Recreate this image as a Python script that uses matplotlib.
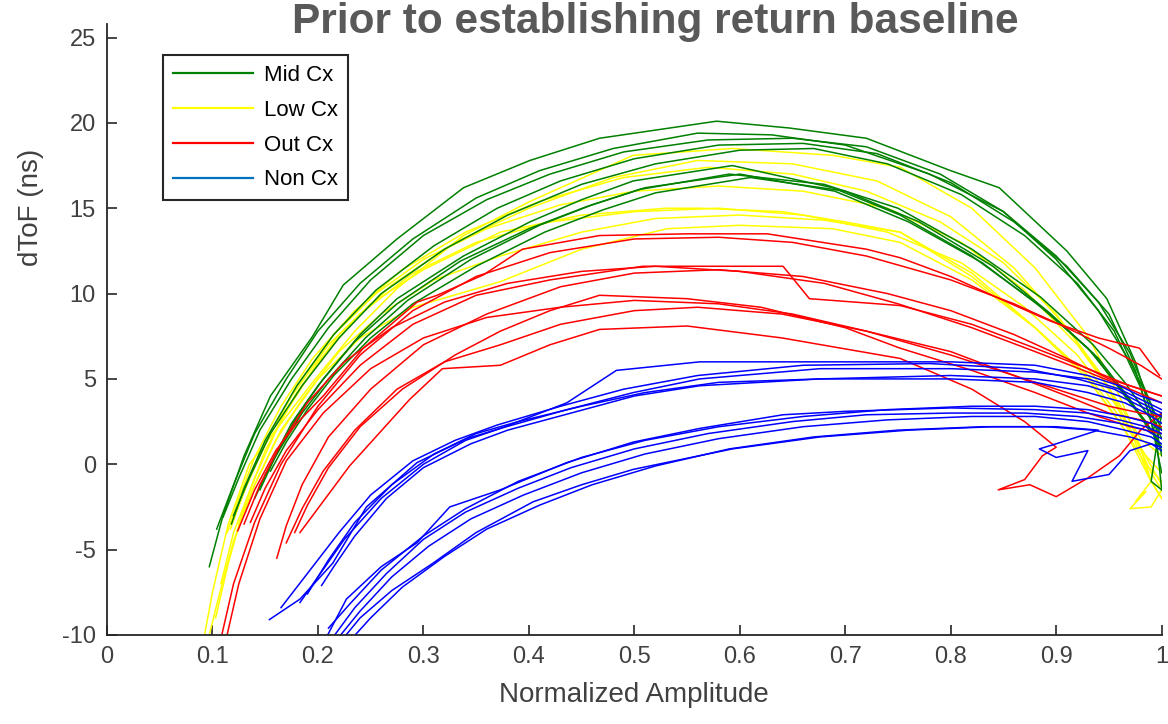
import numpy as np
import matplotlib
matplotlib.use('Agg')
import matplotlib.pyplot as plt
from matplotlib.lines import Line2D

plt.rcParams['font.family'] = ['Liberation Sans', 'DejaVu Sans']
plt.rcParams['axes.unicode_minus'] = False

# ---- data (normalized amplitude, dToF in ns) ----
mid_cx_x = [
    [0.097, 0.11, 0.13, 0.155, 0.195, 0.224, 0.275, 0.338, 0.401, 0.467, 0.578, 0.647, 0.72, 0.80, 0.846, 0.91, 0.948, 0.975, 0.99, 1.0],
    [0.104, 0.12, 0.14, 0.17, 0.20, 0.24, 0.29, 0.35, 0.41, 0.48, 0.56, 0.63, 0.70, 0.78, 0.85, 0.90, 0.94, 0.97, 0.99, 1.0],
    [0.11, 0.125, 0.145, 0.175, 0.21, 0.25, 0.30, 0.36, 0.42, 0.49, 0.57, 0.65, 0.72, 0.79, 0.85, 0.90, 0.94, 0.97, 0.99, 1.0],
    [0.118, 0.13, 0.15, 0.18, 0.215, 0.255, 0.31, 0.37, 0.43, 0.50, 0.58, 0.66, 0.73, 0.80, 0.86, 0.91, 0.95, 0.975, 0.99, 1.0],
    [0.12, 0.135, 0.155, 0.185, 0.22, 0.26, 0.32, 0.38, 0.45, 0.52, 0.60, 0.67, 0.74, 0.81, 0.87, 0.92, 0.955, 0.98, 0.995, 1.0],
    [0.145, 0.16, 0.18, 0.205, 0.24, 0.275, 0.338, 0.401, 0.45, 0.499, 0.593, 0.688, 0.752, 0.82, 0.88, 0.93, 0.96, 0.985, 1.0],
    [0.15, 0.165, 0.185, 0.21, 0.245, 0.285, 0.345, 0.41, 0.46, 0.51, 0.60, 0.69, 0.76, 0.83, 0.89, 0.935, 0.965, 0.99, 1.0],
    [0.14, 0.155, 0.175, 0.20, 0.235, 0.275, 0.335, 0.40, 0.455, 0.505, 0.59, 0.68, 0.75, 0.82, 0.885, 0.935, 0.965, 0.99, 1.0],
    [0.155, 0.17, 0.19, 0.215, 0.25, 0.29, 0.35, 0.415, 0.47, 0.52, 0.61, 0.70, 0.77, 0.84, 0.895, 0.94, 0.97, 0.99, 1.0, 0.99, 1.0],
]
mid_cx_y = [
    [-6.0, -3.0, 0.5, 4.0, 7.5, 10.5, 13.2, 16.2, 17.8, 19.1, 20.1, 19.7, 19.1, 17.2, 16.2, 12.5, 9.7, 6.0, 3.0, 1.5],
    [-3.8, -1.2, 1.8, 5.0, 7.8, 10.6, 13.2, 15.6, 17.2, 18.5, 19.4, 19.3, 18.7, 17.0, 14.8, 12.0, 9.0, 6.0, 3.5, 2.0],
    [-3.1, -0.8, 2.0, 5.0, 8.0, 10.8, 13.4, 15.5, 17.0, 18.3, 19.0, 19.1, 18.6, 17.0, 14.8, 12.2, 9.5, 6.5, 3.5, 0.5],
    [-3.5, -1.4, 1.4, 4.6, 7.6, 10.2, 12.8, 15.0, 16.6, 17.9, 18.7, 18.8, 18.2, 16.5, 14.2, 11.6, 8.8, 5.5, 2.5, -0.5],
    [-3.0, -0.8, 1.8, 4.6, 7.4, 10.0, 12.6, 14.6, 16.4, 17.6, 18.4, 18.5, 17.6, 15.8, 13.4, 10.6, 7.8, 4.5, 1.5, -1.5],
    [-1.5, 0.5, 2.8, 5.0, 7.6, 9.7, 12.2, 14.2, 15.5, 16.6, 17.5, 16.2, 14.6, 12.2, 9.5, 6.8, 4.5, 2.5, 1.0],
    [-0.6, 1.0, 3.0, 5.0, 7.4, 9.6, 12.0, 14.0, 15.2, 16.2, 17.0, 16.0, 14.2, 11.8, 9.0, 6.5, 4.0, 2.0, 0.8],
    [-2.0, 0.0, 2.4, 4.6, 7.2, 9.4, 11.9, 13.8, 15.1, 16.1, 17.0, 16.4, 15.0, 12.6, 9.8, 7.0, 4.8, 2.6, 2.0],
    [-0.4, 1.3, 3.2, 5.2, 7.4, 9.4, 11.6, 13.6, 14.9, 15.9, 16.8, 16.0, 14.2, 11.6, 8.8, 6.2, 3.8, 1.8, 3.0, -1.0, -1.5],
]

low_cx_x = [
    [0.091, 0.10, 0.115, 0.135, 0.16, 0.195, 0.235, 0.275, 0.338, 0.401, 0.499, 0.593, 0.688, 0.752, 0.82, 0.88, 0.93, 0.96, 0.98, 0.99, 1.0],
    [0.103, 0.115, 0.13, 0.15, 0.18, 0.22, 0.27, 0.33, 0.40, 0.48, 0.56, 0.65, 0.73, 0.80, 0.86, 0.91, 0.95, 0.975, 0.99, 1.0],
    [0.114, 0.125, 0.14, 0.165, 0.195, 0.235, 0.28, 0.34, 0.41, 0.49, 0.57, 0.65, 0.72, 0.79, 0.85, 0.90, 0.94, 0.97, 0.99, 0.975, 0.985, 0.97, 0.99, 1.0],
    [0.117, 0.13, 0.15, 0.175, 0.21, 0.25, 0.30, 0.373, 0.45, 0.53, 0.562, 0.64, 0.70, 0.752, 0.82, 0.88, 0.93, 0.96, 0.985, 1.0],
    [0.125, 0.14, 0.16, 0.185, 0.22, 0.26, 0.31, 0.373, 0.45, 0.52, 0.60, 0.68, 0.752, 0.82, 0.88, 0.93, 0.96, 0.985, 1.0],
    [0.095, 0.105, 0.12, 0.14, 0.165, 0.20, 0.24, 0.29, 0.373, 0.45, 0.531, 0.60, 0.688, 0.752, 0.82, 0.88, 0.93, 0.965, 0.99, 1.0],
    [0.12, 0.135, 0.155, 0.18, 0.215, 0.255, 0.30, 0.36, 0.43, 0.50, 0.58, 0.66, 0.74, 0.81, 0.87, 0.92, 0.955, 0.98, 1.0],
    [0.108, 0.12, 0.14, 0.165, 0.20, 0.24, 0.29, 0.35, 0.42, 0.50, 0.58, 0.66, 0.74, 0.81, 0.87, 0.92, 0.955, 0.98, 1.0],
]
low_cx_y = [
    [-10.5, -7.5, -3.5, 0.0, 2.0, 4.8, 7.8, 10.3, 13.4, 15.4, 18.1, 18.5, 18.1, 17.4, 15.0, 11.5, 7.5, 4.0, 1.0, -1.0, -2.0],
    [-9.0, -5.8, -2.5, 0.8, 4.2, 7.6, 10.5, 13.0, 15.0, 16.8, 17.8, 17.6, 16.6, 14.5, 11.5, 8.0, 4.5, 1.5, -0.5, -1.5],
    [-4.0, -2.0, 0.4, 3.4, 6.2, 9.0, 11.4, 13.6, 15.4, 16.8, 17.4, 17.0, 16.0, 14.2, 11.8, 8.8, 5.5, 2.0, -1.0, -2.2, -1.6, -2.6, -2.5, -1.5],
    [-3.8, -1.6, 1.2, 4.0, 7.0, 9.4, 11.4, 13.6, 14.6, 15.0, 15.0, 14.8, 14.2, 13.6, 11.2, 8.0, 5.0, 2.5, 0.0, -1.0],
    [-3.5, -1.2, 1.4, 3.8, 6.6, 8.8, 10.8, 12.2, 13.6, 14.4, 14.6, 14.3, 13.6, 11.0, 8.0, 5.2, 2.8, 0.5, -0.5],
    [-10.5, -8.0, -4.5, -1.2, 2.0, 5.0, 7.4, 9.2, 10.7, 12.6, 13.8, 14.0, 13.8, 13.0, 10.8, 8.0, 5.0, 2.0, -1.0, -2.0],
    [-3.2, -0.8, 1.8, 4.6, 7.6, 10.0, 12.0, 13.8, 15.2, 16.0, 16.3, 16.0, 15.0, 13.0, 10.2, 7.0, 4.0, 1.5, 0.5],
    [-7.0, -4.0, -0.8, 2.6, 6.0, 8.8, 11.2, 13.0, 14.2, 14.8, 15.0, 14.6, 13.6, 11.8, 9.2, 6.4, 3.6, 1.0, -1.2],
]

out_cx_x = [
    [0.124, 0.14, 0.16, 0.18, 0.205, 0.243, 0.294, 0.313, 0.357, 0.394, 0.467, 0.55, 0.626, 0.72, 0.752, 0.80, 0.85, 0.894, 0.94, 0.979, 0.998],
    [0.107, 0.12, 0.14, 0.165, 0.20, 0.24, 0.29, 0.35, 0.42, 0.50, 0.58, 0.65, 0.72, 0.80, 0.86, 0.91, 0.95, 0.98, 1.0],
    [0.136, 0.15, 0.17, 0.20, 0.24, 0.29, 0.35, 0.42, 0.508, 0.60, 0.641, 0.666, 0.752, 0.82, 0.88, 0.93, 0.97, 1.0],
    [0.161, 0.17, 0.185, 0.21, 0.25, 0.30, 0.36, 0.43, 0.50, 0.58, 0.66, 0.74, 0.80, 0.86, 0.91, 0.95, 0.98, 1.0],
    [0.178, 0.19, 0.21, 0.24, 0.28, 0.33, 0.373, 0.42, 0.467, 0.55, 0.62, 0.70, 0.752, 0.82, 0.88, 0.93, 0.97, 1.0],
    [0.183, 0.23, 0.287, 0.318, 0.373, 0.42, 0.467, 0.55, 0.64, 0.752, 0.82, 0.87, 0.90, 0.887, 0.87, 0.845, 0.875, 0.90, 0.93, 0.96, 0.98, 1.0],
    [0.13, 0.145, 0.165, 0.19, 0.225, 0.27, 0.32, 0.38, 0.45, 0.52, 0.60, 0.68, 0.75, 0.82, 0.88, 0.93, 0.97, 1.0],
    [0.112, 0.125, 0.145, 0.17, 0.205, 0.25, 0.30, 0.36, 0.43, 0.50, 0.58, 0.65, 0.72, 0.80, 0.86, 0.91, 0.95, 0.98, 1.0],
    [0.17, 0.185, 0.205, 0.235, 0.275, 0.32, 0.373, 0.43, 0.50, 0.56, 0.64, 0.72, 0.80, 0.86, 0.91, 0.95, 0.98, 1.0],
]
out_cx_y = [
    [-3.9, -1.5, 0.8, 2.4, 4.0, 6.8, 9.5, 9.9, 11.1, 12.6, 13.4, 13.5, 13.5, 12.6, 12.1, 11.0, 9.6, 8.4, 7.4, 6.8, 5.2],
    [-10.5, -7.0, -3.4, 0.0, 3.4, 6.4, 9.0, 11.0, 12.4, 13.2, 13.3, 13.0, 12.2, 10.8, 9.4, 8.0, 6.8, 5.8, 5.0],
    [-3.4, -1.4, 0.8, 3.2, 5.8, 8.2, 9.9, 10.8, 11.6, 11.6, 11.6, 9.7, 9.3, 8.2, 6.8, 5.6, 4.6, 4.0],
    [-5.5, -3.6, -1.2, 1.6, 4.4, 7.0, 8.8, 10.4, 11.2, 11.4, 11.0, 10.0, 9.0, 7.6, 6.2, 5.0, 4.4, 4.0],
    [-4.0, -2.4, -0.2, 2.2, 4.4, 6.4, 7.8, 9.0, 9.9, 9.7, 9.2, 8.0, 6.8, 5.5, 4.2, 3.0, 2.2, 1.8],
    [-4.0, -0.1, 3.8, 5.6, 5.8, 7.0, 7.9, 8.1, 7.4, 6.2, 4.4, 2.5, 1.0, 0.5, -0.9, -1.5, -1.2, -1.9, -0.8, 0.5, 2.0, 3.0],
    [-3.5, -1.2, 1.2, 3.6, 6.0, 8.0, 9.5, 10.6, 11.3, 11.6, 11.3, 10.6, 9.4, 8.0, 6.6, 5.4, 4.4, 3.6],
    [-10.5, -7.0, -3.2, 0.2, 3.0, 5.6, 7.4, 8.6, 9.2, 9.6, 9.4, 8.8, 7.8, 6.4, 5.2, 4.2, 3.4, 3.0, 2.8],
    [-4.6, -2.6, -0.4, 2.0, 4.4, 6.0, 7.0, 8.2, 9.0, 9.2, 8.8, 7.8, 6.6, 5.2, 4.0, 3.0, 2.6, 2.2],
]

non_cx_x = [
    [0.154, 0.183, 0.214, 0.246, 0.294, 0.341, 0.373, 0.436, 0.483, 0.562, 0.676, 0.80, 0.88, 0.93, 0.96, 0.98, 1.0],
    [0.183, 0.20, 0.225, 0.26, 0.30, 0.34, 0.373, 0.436, 0.499, 0.562, 0.676, 0.80, 0.88, 0.93, 0.96, 0.98, 1.0],
    [0.2035, 0.215, 0.235, 0.265, 0.30, 0.345, 0.38, 0.44, 0.50, 0.562, 0.676, 0.80, 0.88, 0.93, 0.96, 0.98, 1.0],
    [0.19, 0.21, 0.235, 0.27, 0.31, 0.35, 0.39, 0.45, 0.51, 0.58, 0.676, 0.80, 0.88, 0.93, 0.965, 0.985, 1.0],
    [0.165, 0.19, 0.22, 0.25, 0.29, 0.33, 0.37, 0.43, 0.49, 0.56, 0.66, 0.78, 0.87, 0.92, 0.955, 0.98, 1.0],
    [0.205, 0.227, 0.26, 0.294, 0.325, 0.373, 0.436, 0.499, 0.562, 0.641, 0.70, 0.80, 0.88, 0.93, 0.96, 0.985, 1.0],
    [0.22, 0.24, 0.27, 0.309, 0.35, 0.404, 0.45, 0.499, 0.593, 0.676, 0.76, 0.84, 0.90, 0.94, 0.90, 0.884, 0.90, 0.93, 0.915, 0.95, 0.97, 0.99, 1.0],
    [0.21, 0.235, 0.265, 0.30, 0.34, 0.39, 0.44, 0.50, 0.57, 0.65, 0.72, 0.80, 0.87, 0.92, 0.96, 0.985, 1.0],
    [0.215, 0.24, 0.27, 0.305, 0.345, 0.395, 0.45, 0.51, 0.58, 0.66, 0.74, 0.82, 0.88, 0.93, 0.965, 0.99, 1.0],
    [0.228, 0.25, 0.28, 0.32, 0.36, 0.41, 0.46, 0.52, 0.59, 0.67, 0.75, 0.83, 0.89, 0.935, 0.97, 0.99, 1.0],
    [0.21, 0.23, 0.26, 0.30, 0.34, 0.39, 0.45, 0.51, 0.58, 0.66, 0.74, 0.82, 0.88, 0.93, 0.965, 0.99, 1.0],
]
non_cx_y = [
    [-9.1, -7.9, -5.8, -2.5, 0.1, 1.5, 2.1, 3.6, 5.5, 6.0, 6.0, 6.0, 5.8, 5.2, 4.6, 4.0, 3.6],
    [-8.1, -6.6, -4.4, -2.0, 0.0, 1.4, 2.1, 3.2, 4.2, 5.0, 5.6, 5.6, 5.4, 5.0, 4.4, 3.8, 3.2],
    [-7.1, -6.0, -4.2, -2.0, -0.2, 1.2, 2.0, 3.0, 4.0, 4.6, 5.0, 5.2, 5.0, 4.6, 4.0, 3.4, 2.8],
    [-7.6, -5.6, -3.4, -1.2, 0.6, 1.8, 2.5, 3.4, 4.2, 4.8, 5.0, 5.0, 4.8, 4.2, 3.6, 3.0, 2.4],
    [-8.4, -6.4, -4.0, -1.8, 0.2, 1.4, 2.3, 3.4, 4.4, 5.2, 5.8, 5.9, 5.6, 5.0, 4.4, 3.6, 3.0],
    [-10.5, -7.9, -6.0, -4.6, -2.5, -1.5, 0.1, 1.3, 2.1, 2.9, 3.1, 3.3, 3.2, 3.0, 2.6, 2.2, 1.8],
    [-10.5, -9.0, -7.4, -5.8, -4.0, -2.2, -1.2, -0.3, 0.9, 1.6, 2.0, 2.2, 2.2, 2.0, 1.2, 0.9, 0.4, 0.8, -1.0, -0.6, 0.8, 1.2, 1.0],
    [-10.5, -8.4, -6.4, -4.4, -2.8, -1.4, -0.2, 0.9, 1.8, 2.5, 2.9, 3.0, 3.0, 2.8, 2.4, 2.0, 1.5],
    [-10.5, -8.6, -6.6, -4.8, -3.2, -1.8, -0.5, 0.6, 1.5, 2.2, 2.6, 2.8, 2.8, 2.5, 2.0, 1.6, 1.2],
    [-10.5, -9.0, -7.2, -5.4, -3.8, -2.4, -1.2, -0.1, 0.9, 1.6, 2.0, 2.2, 2.2, 2.0, 1.6, 1.2, 0.8],
    [-9.6, -8.2, -6.2, -4.2, -2.6, -1.0, 0.4, 1.4, 2.2, 2.8, 3.2, 3.4, 3.4, 3.2, 2.8, 2.4, 2.0],
]

labels = ['Mid Cx', 'Low Cx', 'Out Cx', 'Non Cx']
line_colors = ['#008000', '#FFFF00', '#FF0000', '#0000FF']
legend_colors = ['#008000', '#FFFF00', '#FF0000', '#0072BD']

fig = plt.figure(figsize=(11.68, 7.24), dpi=100)
ax = fig.add_axes([0.0916, 0.123, 0.903, 0.844])

# drawing order as in the reference: yellow, green, red, blue on top
groups = [(low_cx_x, low_cx_y, line_colors[1]),
          (mid_cx_x, mid_cx_y, line_colors[0]),
          (out_cx_x, out_cx_y, line_colors[2]),
          (non_cx_x, non_cx_y, line_colors[3])]
for gx, gy, c in groups:
    for xs, ys in zip(gx, gy):
        ax.plot(xs, ys, color=c, lw=1.1)

ax.set_xlim(0, 1)
ax.set_ylim(-10, 25.8)
ax.set_xticks(np.arange(0, 1.01, 0.1))
ax.set_xticklabels(['0', '0.1', '0.2', '0.3', '0.4', '0.5', '0.6', '0.7', '0.8', '0.9', '1'])
ax.set_yticks([-10, -5, 0, 5, 10, 15, 20, 25])

for s in ['top', 'right']:
    ax.spines[s].set_visible(False)
for s in ['left', 'bottom']:
    ax.spines[s].set_color('#262626')
    ax.spines[s].set_linewidth(1.3)
ax.tick_params(direction='in', length=7, width=1.2, colors='#262626',
               labelsize=17, labelcolor='#404040', pad=8)

ax.set_xlabel('Normalized Amplitude', fontsize=20, color='#404040', labelpad=10)
ax.set_ylabel('dToF (ns)', fontsize=20, color='#404040', va='center')
ax.yaxis.set_label_coords(-0.072, 0.70)

handles = [Line2D([0], [0], color=c, lw=1.6) for c in legend_colors]
leg = ax.legend(handles, labels, loc='upper left', bbox_to_anchor=(0.053, 0.949),
                borderaxespad=0, fontsize=16, handlelength=3.6, handletextpad=0.5,
                labelspacing=0.62, fancybox=False, framealpha=1,
                edgecolor='#262626', borderpad=0.45)
leg.get_frame().set_linewidth(1.5)

fig.text(0.561, 0.969, 'Prior to establishing return baseline', ha='center', va='center',
         fontsize=30.5, fontweight='bold', color='#595959')

fig.savefig('out.png', dpi=100)
